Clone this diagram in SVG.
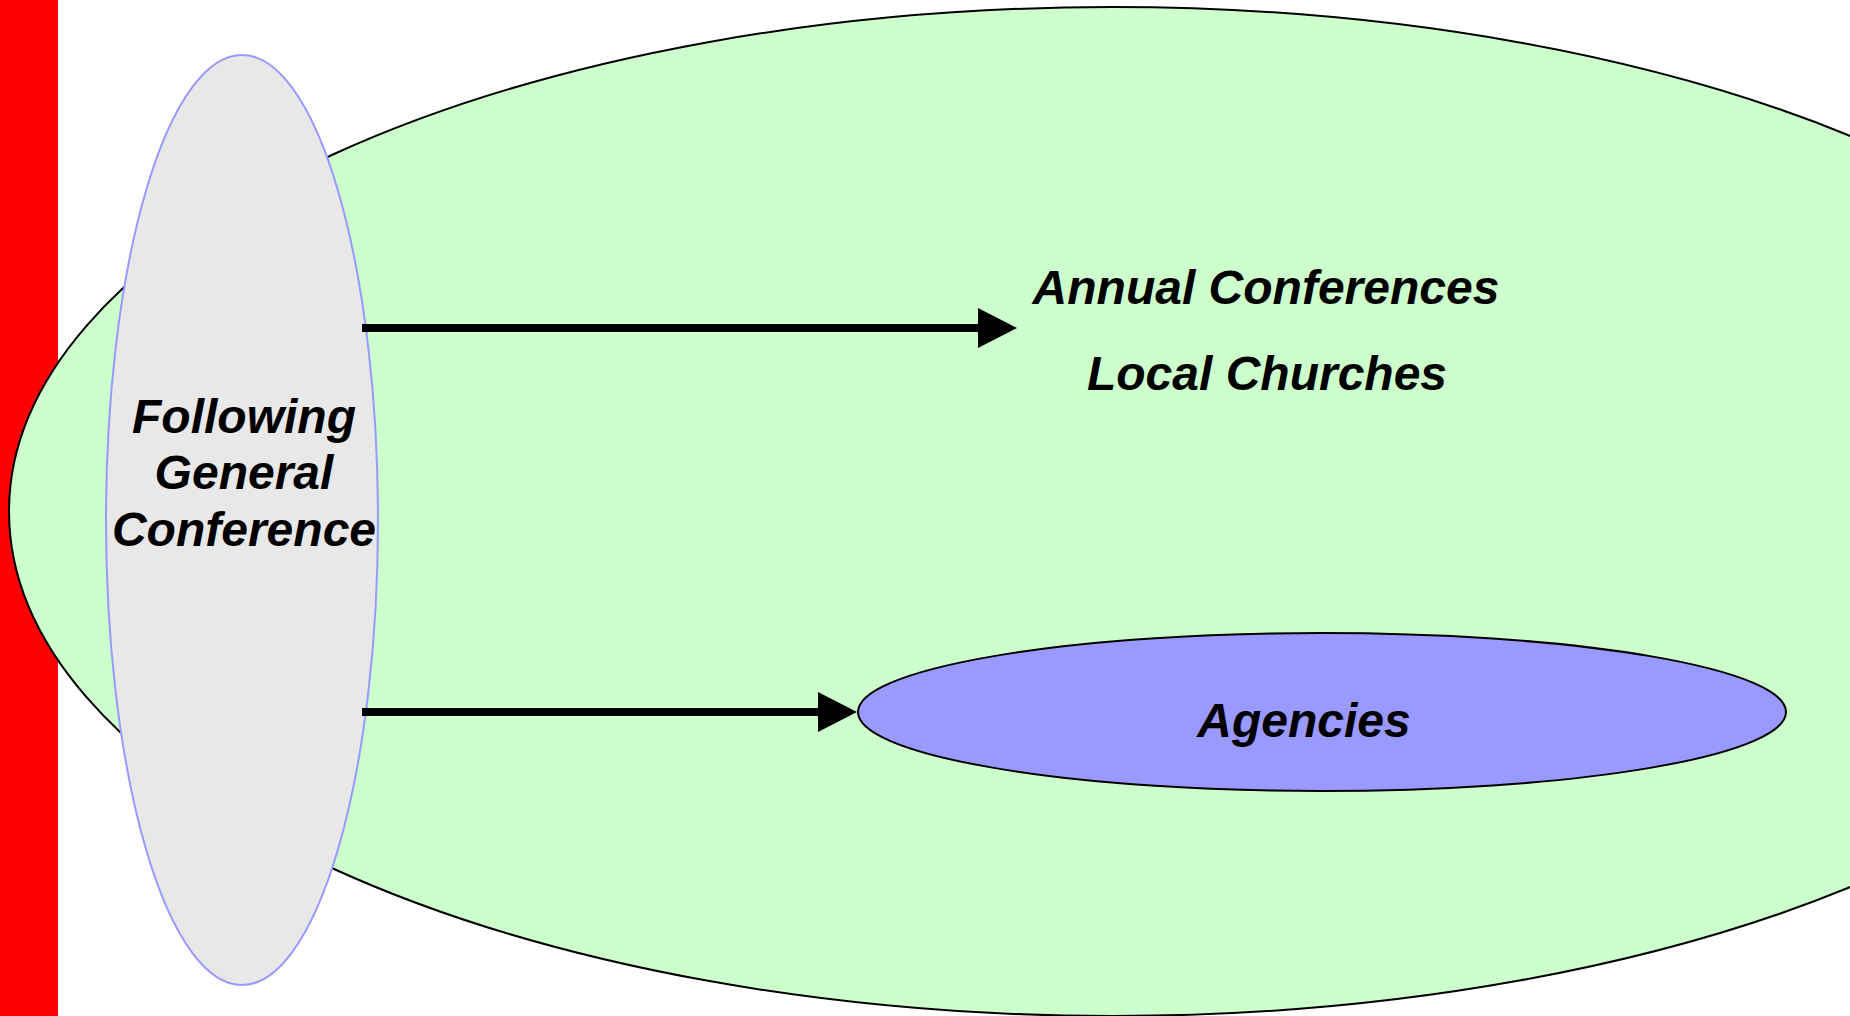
<svg xmlns="http://www.w3.org/2000/svg" width="1850" height="1016" viewBox="0 0 1850 1016">
  <style>
    .lbl { font-family: "Liberation Sans", Arial, sans-serif; font-size: 48px; font-weight: bold; font-style: italic; fill: #000; text-anchor: middle; }
    .conn { stroke: #000; stroke-width: 8; fill: none; }
  </style>
  <defs>
    <marker id="arrow" markerUnits="userSpaceOnUse" markerWidth="40" markerHeight="40" refX="0" refY="20" orient="auto">
      <path d="M0,0 L39,20 L0,40 Z" fill="#000"/>
    </marker>
  </defs>
  <rect x="0" y="0" width="1850" height="1016" fill="#fff"/>
  <rect id="bar" x="0" y="0" width="58" height="1016" fill="#FF0000"/>
  <g id="region">
    <ellipse cx="1113" cy="511.5" rx="1104" ry="504.5" fill="#CCFFCC" stroke="#000" stroke-width="2"/>
    <text class="lbl" x="1266" y="304">Annual Conferences</text>
    <text class="lbl" x="1267" y="390">Local Churches</text>
  </g>
  <g id="general-conference">
    <ellipse cx="242" cy="520" rx="136" ry="465" fill="#E8E8E8" stroke="#9999FF" stroke-width="2"/>
    <text class="lbl" x="244" y="433">Following</text>
    <text class="lbl" x="244" y="489">General</text>
    <text class="lbl" x="244" y="546">Conference</text>
  </g>
  <g id="agencies">
    <ellipse cx="1322" cy="712" rx="464" ry="79" fill="#9999FF" stroke="#000" stroke-width="2"/>
    <text class="lbl" x="1304" y="737">Agencies</text>
  </g>
  <g id="connectors">
    <line class="conn" x1="362" y1="328" x2="978" y2="328" marker-end="url(#arrow)"/>
    <line class="conn" x1="362" y1="712" x2="818" y2="712" marker-end="url(#arrow)"/>
  </g>
</svg>
